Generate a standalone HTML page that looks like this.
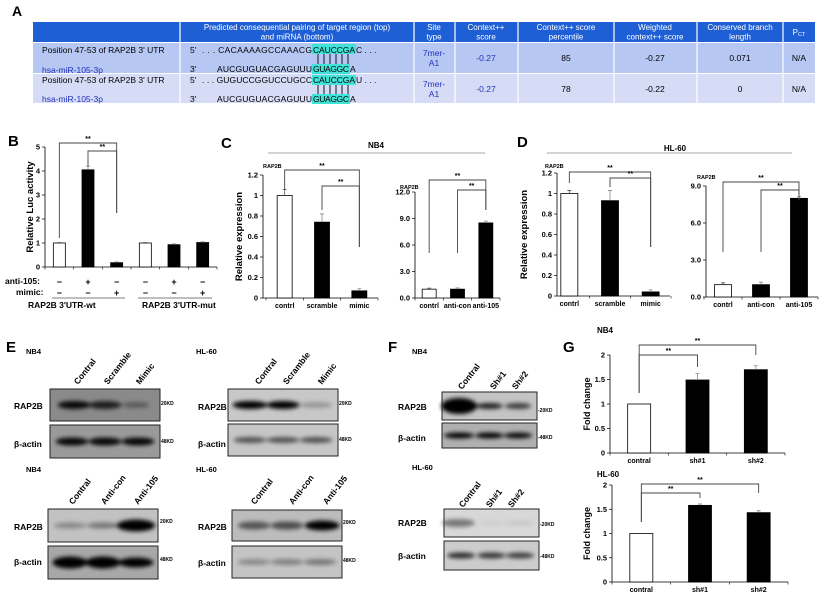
<!DOCTYPE html>
<html><head><meta charset="utf-8"><style>
html,body{margin:0;padding:0;background:#fff;width:825px;height:594px;overflow:hidden}
svg{display:block;font-family:"Liberation Sans",Arial,sans-serif}
</style></head><body>
<svg id="fig" width="825" height="594" viewBox="0 0 825 594" xmlns="http://www.w3.org/2000/svg">
<defs>
<filter id="blur" x="-30%" y="-80%" width="160%" height="260%"><feGaussianBlur stdDeviation="2.2"/></filter>
</defs>
<g>
<text x="12" y="16" font-size="14" font-weight="bold">A</text>
<rect x="33" y="22" width="782" height="20" fill="#1f5fd6"/>
<rect x="33" y="43" width="782" height="30" fill="#b5c7f2"/>
<rect x="33" y="74" width="782" height="29" fill="#d6dbf6"/>
<g stroke="#fff" stroke-width="1.2">
<line x1="180" y1="22" x2="180" y2="103"/><line x1="414" y1="22" x2="414" y2="103"/><line x1="455" y1="22" x2="455" y2="103"/><line x1="518" y1="22" x2="518" y2="103"/><line x1="614" y1="22" x2="614" y2="103"/><line x1="697" y1="22" x2="697" y2="103"/><line x1="783" y1="22" x2="783" y2="103"/>
</g>
<g fill="#fff" font-size="8" text-anchor="middle">
<text x="297" y="30">Predicted consequential pairing of target region (top)<tspan x="297" dy="9.5">and miRNA (bottom)</tspan></text>
<text x="434" y="30">Site<tspan x="434" dy="9.5">type</tspan></text>
<text x="486" y="30">Context++<tspan x="486" dy="9.5">score</tspan></text>
<text x="566" y="30">Context++ score<tspan x="566" dy="9.5">percentile</tspan></text>
<text x="655" y="30">Weighted<tspan x="655" dy="9.5">context++ score</tspan></text>
<text x="740" y="30">Conserved branch<tspan x="740" dy="9.5">length</tspan></text>
<text x="799" y="35">P<tspan font-size="5.5" dy="1">CT</tspan></text>
</g>
<g font-size="8.5">
<rect x="312" y="44" width="44" height="10" fill="#3fe3d8"/><rect x="312" y="64" width="38" height="10" fill="#3fe3d8"/>
<rect x="312" y="75" width="44" height="10" fill="#3fe3d8"/><rect x="312" y="94" width="38" height="10" fill="#3fe3d8"/>
<g stroke="#000" stroke-width="0.9">
<line x1="318" y1="54" x2="318" y2="64"/><line x1="324" y1="54" x2="324" y2="64"/><line x1="330" y1="54" x2="330" y2="64"/><line x1="336" y1="54" x2="336" y2="64"/><line x1="342" y1="54" x2="342" y2="64"/><line x1="348" y1="54" x2="348" y2="64"/>
<line x1="318" y1="85" x2="318" y2="94"/><line x1="324" y1="85" x2="324" y2="94"/><line x1="330" y1="85" x2="330" y2="94"/><line x1="336" y1="85" x2="336" y2="94"/><line x1="342" y1="85" x2="342" y2="94"/><line x1="348" y1="85" x2="348" y2="94"/>
</g>
<text x="42" y="53">Position 47-53 of RAP2B 3' UTR</text>
<text x="42" y="73" fill="#2233bb">hsa-miR-105-3p</text>
<text x="190" y="53">5'</text><text x="202" y="53" textLength="110">. . . CACAAAAGCCAAACG</text><text x="313" y="53" textLength="42">CAUCCGA</text><text x="356" y="53">C . . .</text>
<text x="190" y="72">3'</text><text x="217" y="72" textLength="95">AUCGUGUACGAGUUU</text><text x="313" y="72" textLength="36">GUAGGC</text><text x="350" y="72">A</text>
<text x="42" y="83">Position 47-53 of RAP2B 3' UTR</text>
<text x="42" y="102" fill="#2233bb">hsa-miR-105-3p</text>
<text x="190" y="83">5'</text><text x="202" y="83" textLength="110">. . . GUGUCCGGUCCUGCC</text><text x="313" y="83" textLength="42">CAUCCGA</text><text x="356" y="83">U . . .</text>
<text x="190" y="102">3'</text><text x="217" y="102" textLength="95">AUCGUGUACGAGUUU</text><text x="313" y="102" textLength="36">GUAGGC</text><text x="350" y="102">A</text>
<g text-anchor="middle">
<text x="434" y="56" fill="#2233bb">7mer-<tspan x="434" dy="10">A1</tspan></text>
<text x="486" y="61" fill="#2233bb">-0.27</text><text x="566" y="61">85</text><text x="655" y="61">-0.27</text><text x="740" y="61">0.071</text><text x="799" y="61">N/A</text>
<text x="434" y="87" fill="#2233bb">7mer-<tspan x="434" dy="10">A1</tspan></text>
<text x="486" y="92" fill="#2233bb">-0.27</text><text x="566" y="92">78</text><text x="655" y="92">-0.22</text><text x="740" y="92">0</text><text x="799" y="92">N/A</text>
</g></g>
</g>
<g id="charts"></g>
<g id="blots"></g>
<g font-weight="bold" font-size="15">
<text x="8" y="146">B</text>
<text x="221" y="148">C</text>
<text x="517" y="147">D</text>
<text x="6" y="352">E</text>
<text x="388" y="352">F</text>
<text x="563" y="352">G</text>
</g>
<g font-weight="bold" font-size="8" text-anchor="middle">
<text x="376" y="148">NB4</text>
<text x="675" y="151">HL-60</text>
<text x="605" y="333">NB4</text>
<text x="608" y="477">HL-60</text>
</g>
<line x1="268" y1="153" x2="485" y2="153" stroke="#aaa"/>
<line x1="547" y1="153" x2="792" y2="153" stroke="#aaa"/>
<g font-size="8.5" font-weight="bold">
<text x="5" y="284">anti-105:</text><text x="16" y="295">mimic:</text>
<text x="28" y="308" text-anchor="start">RAP2B 3'UTR-wt</text>
<text x="142" y="308">RAP2B 3'UTR-mut</text>
<line x1="52" y1="298" x2="125" y2="298" stroke="#000" stroke-width="0.6"/>
<line x1="138" y1="298" x2="212" y2="298" stroke="#000" stroke-width="0.6"/>
</g>
<script>
var NS='http://www.w3.org/2000/svg';
function mk(p,tag,attrs){var e=document.createElementNS(NS,tag);for(var k in attrs)e.setAttribute(k,attrs[k]);p.appendChild(e);return e;}

var bCategories=['wt-ctrl','wt-anti105','wt-mimic','mut-ctrl','mut-anti105','mut-mimic'];
var bValues=[1.0,4.05,0.18,1.0,0.93,1.02];
var bErrors=[0.02,0.15,0.03,0.02,0.03,0.03];
var bTicks=[0,1,2,3,4,5];
var bAnti=['−','+','−','−','+','−'];
var bMimic=['−','−','+','−','−','+'];

var c1Categories=['contrl','scramble','mimic'];
var c1Values=[1.0,0.74,0.07];
var c1Errors=[0.06,0.08,0.02];
var c1Ticks=[0,0.2,0.4,0.6,0.8,1,1.2];
var c1TickLabels=['0','0.2','0.4','0.6','0.8','1','1.2'];

var c2Categories=['contrl','anti-con','anti-105'];
var c2Values=[1.0,1.0,8.5];
var c2Errors=[0.12,0.15,0.2];
var c2Ticks=[0,3,6,9,12];
var c2TickLabels=['0.0','3.0','6.0','9.0','12.0'];

var d1Categories=['contrl','scramble','mimic'];
var d1Values=[1.0,0.93,0.04];
var d1Errors=[0.03,0.1,0.02];
var d1Ticks=[0,0.2,0.4,0.6,0.8,1,1.2];
var d1TickLabels=['0','0.2','0.4','0.6','0.8','1','1.2'];

var d2Categories=['contrl','anti-con','anti-105'];
var d2Values=[1.0,1.0,8.0];
var d2Errors=[0.15,0.2,0.15];
var d2Ticks=[0,3,6,9];
var d2TickLabels=['0.0','3.0','6.0','9.0'];

var g1Categories=['contral','sh#1','sh#2'];
var g1Values=[1.0,1.49,1.7];
var g1Errors=[0,0.13,0.08];
var g2Categories=['contral','sh#1','sh#2'];
var g2Values=[1.0,1.58,1.43];
var g2Errors=[0,0.03,0.04];
var gTicks=[0,0.5,1,1.5,2];
var gTickLabels=['0','0.5','1','1.5','2'];

var charts=document.getElementById('charts');
function barChart(cfg){
  var g=mk(charts,'g',{});
  
  
  var ymax=cfg.ticks[cfg.ticks.length-1];
  function Y(v){return cfg.y0-(v/ymax)*(cfg.y0-cfg.yTop);}
  var n=cfg.cats.length,step=(cfg.catEnd-cfg.catStart)/n;
  function X(i){return cfg.catStart+(i+0.5)*step;}
  cfg.X=X;
  var ax=mk(g,'path',{d:'M'+cfg.ax+' '+cfg.yTop+' V'+cfg.y0+' H'+cfg.axEnd,stroke:'#000','stroke-width':'0.8',fill:'none'});
  
  
  cfg.ticks.forEach(function(t,i){
    mk(g,'line',{x1:cfg.ax-3,x2:cfg.ax,y1:Y(t),y2:Y(t),stroke:'#000','stroke-width':'0.7'});
    var tl=mk(g,'text',{x:cfg.ax-5,y:Y(t)+2.5,'font-size':cfg.tfs||7.5,'font-weight':'bold','text-anchor':'end'});
    tl.textContent=cfg.tickLabels?cfg.tickLabels[i]:String(t);
    
    
  });
  for(var k=0;k<=n;k++){var xx=cfg.catStart+k*step;mk(g,'line',{x1:xx,x2:xx,y1:cfg.y0,y2:cfg.y0+2.5,stroke:'#000','stroke-width':'0.6'});}
  cfg.vals.forEach(function(v,i){
    var fill=cfg.fills?cfg.fills[i]:(i===0?'#fff':'#000');
    var r=mk(g,'rect',{x:X(i)-cfg.bw/2,y:Y(v),width:cfg.bw,height:cfg.y0-Y(v),fill:fill,stroke:'#000','stroke-width':'0.8'});
    
    
    var e=cfg.errs[i];
    if(e>0){mk(g,'path',{d:'M'+X(i)+' '+Y(v)+' V'+Y(v+e)+' M'+(X(i)-2)+' '+Y(v+e)+' H'+(X(i)+2),stroke:fill==='#000'?'#888':'#555','stroke-width':'0.8',fill:'none'});}
    if(cfg.xlabels){var xl=mk(g,'text',{x:X(i),y:cfg.y0+cfg.xlOff,'font-size':cfg.xfs||7,'font-weight':'bold','text-anchor':'middle'});
      xl.textContent=cfg.cats[i];
      
      }
  });
  if(cfg.ytitle){var yt=mk(g,'text',{transform:'translate('+cfg.ytx+','+((cfg.y0+cfg.yTop)/2)+') rotate(-90)','font-size':cfg.ytfs||10,'font-weight':'bold','text-anchor':'middle'});
    yt.textContent=cfg.ytitle;
    
    }
  if(cfg.unit){var u=mk(g,'text',{x:cfg.unitX,y:cfg.unitY,'font-size':5.5,'font-weight':'bold'});u.textContent='RAP2B';
    
    }
  (cfg.brackets||[]).forEach(function(b){
    var p=mk(g,'path',{d:'M'+X(b[0])+' '+b[3]+' V'+b[2]+' H'+X(b[1])+' V'+b[4],stroke:'#444','stroke-width':'0.9',fill:'none'});
    
    
    var s=mk(g,'text',{x:(X(b[0])+X(b[1]))/2,y:b[2]-2,'font-size':7,'font-weight':'bold','text-anchor':'middle'});s.textContent='**';
    
    
  });
  return cfg;
}
var bc=barChart({name:'chart-b-luc',cats:bCategories,vals:bValues,errs:bErrors,ticks:bTicks,ax:45,axEnd:217,y0:267,yTop:147,catStart:45,catEnd:217,bw:12,tfs:7.5,
  ytitle:'Relative Luc activity',ytx:33,ytfs:9.5,fills:['#fff','#000','#000','#fff','#000','#000'],
  brackets:[[0,2,143,238,213],[1,2,151,166,213]]});
bAnti.forEach(function(s,i){var t=mk(charts,'text',{x:bc.X(i),y:285,'font-size':9,'font-weight':'bold','text-anchor':'middle'});t.textContent=s;
  
  });
bMimic.forEach(function(s,i){var t=mk(charts,'text',{x:bc.X(i),y:296,'font-size':9,'font-weight':'bold','text-anchor':'middle'});t.textContent=s;
  
  });

barChart({name:'chart-c-nb4-mimic',cats:c1Categories,vals:c1Values,errs:c1Errors,ticks:c1Ticks,tickLabels:c1TickLabels,ax:263,axEnd:378,y0:298,yTop:175,catStart:266,catEnd:378,bw:15,
  xlabels:true,xlOff:10,xfs:7,ytitle:'Relative expression',ytx:242,ytfs:9.5,unit:true,unitX:263,unitY:168,
  brackets:[[0,2,170,190,247],[1,2,186,210,247]]});
barChart({name:'chart-c-nb4-anti',cats:c2Categories,vals:c2Values,errs:c2Errors,ticks:c2Ticks,tickLabels:c2TickLabels,ax:415,axEnd:500,y0:298,yTop:192,catStart:415,catEnd:500,bw:14,
  xlabels:true,xlOff:10,xfs:7,unit:true,unitX:400,unitY:189,
  brackets:[[0,2,180,253,210],[1,2,190,253,210]]});
barChart({name:'chart-d-hl60-mimic',cats:d1Categories,vals:d1Values,errs:d1Errors,ticks:d1Ticks,tickLabels:d1TickLabels,ax:557,axEnd:670,y0:296,yTop:173,catStart:549,catEnd:671,bw:17,
  xlabels:true,xlOff:10,xfs:7,ytitle:'Relative expression',ytx:527,ytfs:9.5,unit:true,unitX:545,unitY:168,
  brackets:[[0,2,172,183,247],[1,2,178,187,247]]});
barChart({name:'chart-d-hl60-anti',cats:d2Categories,vals:d2Values,errs:d2Errors,ticks:d2Ticks,tickLabels:d2TickLabels,ax:706,axEnd:818,y0:297,yTop:186,catStart:704,catEnd:818,bw:17,
  xlabels:true,xlOff:10,xfs:7,unit:true,unitX:697,unitY:179,
  brackets:[[0,2,182,252,195],[1,2,190,252,200]]});
barChart({name:'chart-g-nb4',cats:g1Categories,vals:g1Values,errs:g1Errors,ticks:gTicks,tickLabels:gTickLabels,ax:610,axEnd:785,y0:453,yTop:355,catStart:610,catEnd:785,bw:23,
  xlabels:true,xlOff:10,xfs:7,ytitle:'Fold change',ytx:590,ytfs:9,
  brackets:[[0,2,345,393,355],[0,1,355,393,367]]});
barChart({name:'chart-g-hl60',cats:g2Categories,vals:g2Values,errs:g2Errors,ticks:gTicks,tickLabels:gTickLabels,ax:612,axEnd:788,y0:582,yTop:485,catStart:612,catEnd:788,bw:23,
  xlabels:true,xlOff:10,xfs:7,ytitle:'Fold change',ytx:590,ytfs:9,
  brackets:[[0,2,484,522,493],[0,1,493,522,498]]});

var blots=document.getElementById('blots');
function txt(x,y,s,fs,name,anchor){var t=mk(blots,'text',{x:x,y:y,'font-size':fs,'font-weight':'bold','text-anchor':anchor||'start'});t.textContent=s;
  
  return t;}
function blot(name,x,y,w,h,bg,bands){
  var g=mk(blots,'g',{});
  
  
  mk(g,'rect',{x:x,y:y,width:w,height:h,fill:bg});
  var bg2=mk(g,'g',{filter:'url(#blur)'});
  bands.forEach(function(b){mk(bg2,'ellipse',{cx:x+b[0]*w,cy:y+h/2,rx:b[2]*w/2,ry:b[3],fill:'#000','fill-opacity':b[1]});});
  mk(g,'rect',{x:x,y:y,width:w,height:h,fill:'none',stroke:'#222','stroke-width':1});
}
function lanes(xs,y,labels){labels.forEach(function(s,i){var t=mk(blots,'text',{transform:'translate('+xs[i]+','+y+') rotate(-52)','font-size':8.5,'font-weight':'bold'});t.textContent=s;
  
  });}
txt(26,354,'NB4',7.5,'e-nb4-title');
lanes([78,108,140],385,['Contral','Scramble','Mimic']);
blot('blot-e-nb4-mimic-rap2b',50,389,110,32,'#8a8a8a',[[0.22,0.95,0.3,4],[0.5,0.8,0.3,4],[0.78,0.35,0.25,3]]);
blot('blot-e-nb4-mimic-actin',50,425,110,33,'#9a9a9a',[[0.2,0.95,0.3,4],[0.5,0.95,0.3,4],[0.8,0.95,0.3,4]]);
txt(14,409,'RAP2B',8.5,'rap2b-label');txt(14,447,'β-actin',8.5,'actin-label');
txt(161,405,'20KD',5,'marker-20kd');txt(161,443,'48KD',5,'marker-48kd');
txt(196,354,'HL-60',7.5,'e-hl60-title');
lanes([259,287,322],385,['Contral','Scramble','Mimic']);
blot('blot-e-hl60-mimic-rap2b',228,389,110,32,'#c8c8c8',[[0.2,1,0.32,4],[0.5,1,0.3,4],[0.8,0.25,0.3,3]]);
blot('blot-e-hl60-mimic-actin',228,424,110,32,'#c6c6c6',[[0.2,0.6,0.3,3],[0.5,0.6,0.3,3],[0.8,0.6,0.3,3]]);
txt(198,410,'RAP2B',8.5,'rap2b-label');txt(198,447,'β-actin',8.5,'actin-label');
txt(339,405,'20KD',5,'marker-20kd');txt(339,441,'48KD',5,'marker-48kd');
txt(26,472,'NB4',7.5,'e-nb4-title-2');
lanes([73,105,138],505,['Contral','Anti-con','Anti-105']);
blot('blot-e-nb4-anti-rap2b',48,509,110,33,'#c2c2c2',[[0.2,0.3,0.3,3],[0.5,0.4,0.3,3],[0.8,1,0.35,6]]);
blot('blot-e-nb4-anti-actin',48,546,110,33,'#a8a8a8',[[0.2,1,0.32,6],[0.5,1,0.32,6],[0.8,1,0.32,5]]);
txt(14,530,'RAP2B',8.5,'rap2b-label');txt(14,565,'β-actin',8.5,'actin-label');
txt(160,523,'20KD',5,'marker-20kd');txt(160,561,'48KD',5,'marker-48kd');
txt(196,472,'HL-60',7.5,'e-hl60-title-2');
lanes([255,293,327],505,['Contral','Anti-con','Anti-105']);
blot('blot-e-hl60-anti-rap2b',232,510,110,31,'#bcbcbc',[[0.2,0.55,0.3,4],[0.5,0.6,0.3,4],[0.82,1,0.32,5]]);
blot('blot-e-hl60-anti-actin',232,546,110,32,'#c4c4c4',[[0.2,0.3,0.3,3],[0.5,0.35,0.3,3],[0.8,0.4,0.3,3]]);
txt(198,530,'RAP2B',8.5,'rap2b-label');txt(198,566,'β-actin',8.5,'actin-label');
txt(343,524,'20KD',5,'marker-20kd');txt(343,562,'48KD',5,'marker-48kd');
txt(412,354,'NB4',7.5,'f-nb4-title');
lanes([462,494,516],390,['Contral','Sh#1','Sh#2']);
blot('blot-f-nb4-rap2b',442,392,95,28,'#c4c4c4',[[0.18,1,0.38,8],[0.5,0.85,0.28,3],[0.8,0.7,0.28,3]]);
blot('blot-f-nb4-actin',442,423,95,25,'#b0b0b0',[[0.18,1,0.32,3],[0.5,1,0.3,3],[0.8,0.95,0.3,3]]);
txt(398,410,'RAP2B',8.5,'rap2b-label');txt(398,441,'β-actin',8.5,'actin-label');
txt(538,412,'-20KD',5,'marker-20kd');txt(538,439,'-48KD',5,'marker-48kd');
txt(412,470,'HL-60',7.5,'f-hl60-title');
lanes([463,490,512],508,['Contral','Sh#1','Sh#2']);
blot('blot-f-hl60-rap2b',444,509,95,28,'#d8d8d8',[[0.15,0.45,0.35,4],[0.5,0.05,0.3,2],[0.8,0.1,0.3,2]]);
blot('blot-f-hl60-actin',444,541,95,29,'#cccccc',[[0.18,0.8,0.3,3],[0.5,0.75,0.3,3],[0.8,0.7,0.3,3]]);
txt(398,526,'RAP2B',8.5,'rap2b-label');txt(398,559,'β-actin',8.5,'actin-label');
txt(540,526,'-20KD',5,'marker-20kd');txt(540,558,'-48KD',5,'marker-48kd');
</script>
</svg>
</body></html>
